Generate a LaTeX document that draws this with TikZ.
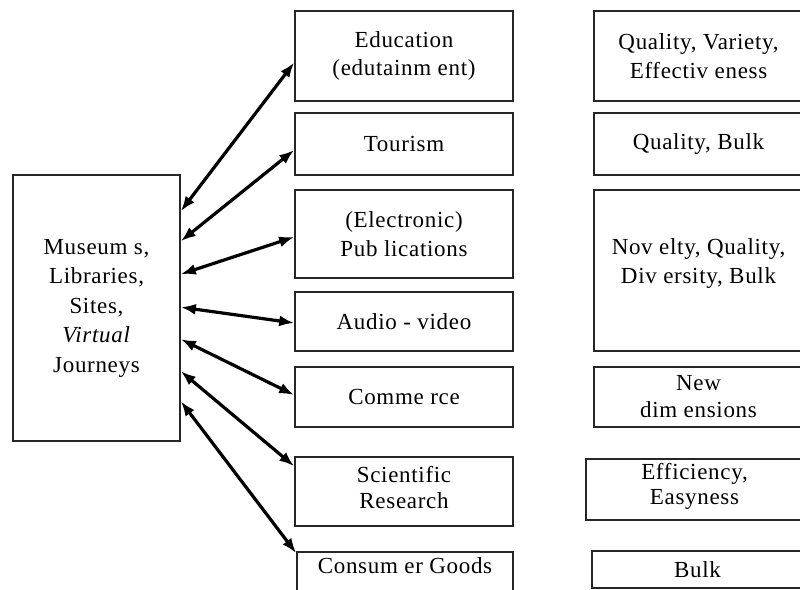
\documentclass[tikz,border=0pt]{standalone}
\usepackage{fontspec}
\setmainfont[LetterSpace=3]{Liberation Serif}
\usetikzlibrary{arrows.meta}
\begin{document}
\begin{tikzpicture}[x=1pt,y=-1pt,
  box/.style={draw=black!85, line width=1.6pt, rectangle, inner sep=0pt, align=center,
              font=\fontsize{23}{28.5}\selectfont},
  txt/.style={align=center, inner sep=0pt, font=\fontsize{23}{28.5}\selectfont},
  tip/.tip={Latex[length=15pt,width=11pt]},
  link/.style={line width=3.2pt, tip-tip}]
\useasboundingbox (0,0) rectangle (800,589);
\clip (0,0) rectangle (800,589);

% left box
\node[box, minimum width=167, minimum height=266,
      font=\fontsize{23}{29.5}\selectfont] (L) at (96.5,308)
  {Museum s,\\Libraries,\\Sites,\\\textit{Virtual}\\Journeys};

% middle column
\node[box, minimum width=218, minimum height=90] (B1) at (404,56) {Education\\(edutainm ent)};
\node[box, minimum width=218, minimum height=62] (B2) at (404,144) {Tourism};
\node[box, minimum width=218, minimum height=88] (B3) at (404,234) {(Electronic)\\Pub lications};
\node[box, minimum width=218, minimum height=59] (B4) at (404,321.5) {Audio - video};
\node[box, minimum width=218, minimum height=60] (B5) at (404,397) {Comme rce};
\node[box, minimum width=218, minimum height=69,
      label={[txt,yshift=4pt,font=\fontsize{23}{26}\selectfont]center:{Scientific\\Research}}] (B6) at (404,491.5) {};
\node[box, minimum width=216, minimum height=43,
      label={[txt,yshift=8pt]center:{Consum er Goods}}] (B7) at (405,573.5) {};

% right column
\node[box, minimum width=209, minimum height=90] (R1) at (698.5,56) {Quality, Variety,\\Effectiv eness};
\node[box, minimum width=209, minimum height=62] (R2) at (698.5,144) {Quality, Bulk};
\node[box, minimum width=209, minimum height=161,
      label={[txt,yshift=7pt]center:{Nov elty, Quality,\\Div ersity, Bulk}}] (R3) at (698.5,270.5) {};
\node[box, minimum width=209, minimum height=60,
      font=\fontsize{23}{27}\selectfont] (R4) at (698.5,397) {New\\dim ensions};
\node[box, minimum width=217, minimum height=61,
      label={[txt,yshift=3pt,font=\fontsize{23}{25}\selectfont]center:{Efficiency,\\Easyness}}] (R5) at (694.5,489.5) {};
\node[box, minimum width=211, minimum height=37] (R6) at (697.5,569.5) {Bulk};

% connectors
\draw[link] ([yshift=-37pt]L.north east)  -- ([yshift=-6.5pt]B1.west);
\draw[link] ([yshift=-67pt]L.north east)  -- ([yshift=-6pt]B2.west);
\draw[link] ([yshift=-100pt]L.north east) -- ([yshift=-3pt]B3.west);
\draw[link] ([yshift=-133pt]L.north east) -- ([yshift=-1.5pt]B4.west);
\draw[link] ([yshift=-165pt]L.north east) -- ([yshift=2pt]B5.west);
\draw[link] ([yshift=-197pt]L.north east) -- ([yshift=-10pt]B6.north west);
\draw[link] ([yshift=-227pt]L.north east) -- ([yshift=-2pt]B7.north west);
\end{tikzpicture}
\end{document}
